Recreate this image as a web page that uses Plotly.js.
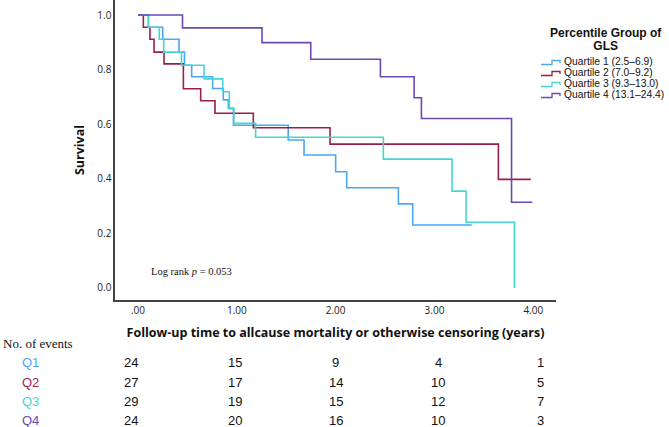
<!DOCTYPE html>
<html>
<head>
<meta charset="utf-8">
<script src="https://cdn.plot.ly/plotly-3.0.1.min.js"></script>
<style>html,body{margin:0;padding:0;background:#fff;}#chart{width:669px;height:427px;}</style>
</head>
<body>
<div id="chart"></div>
<script>
// ---- data ----
const seriesNames = ["Quartile 1 (2.5–6.9)", "Quartile 2 (7.0–9.2)", "Quartile 3 (9.3–13.0)", "Quartile 4 (13.1–24.4)"];
const legendTitle = ["Percentile Group of", "GLS"];
const shortNames = ["Q1", "Q2", "Q3", "Q4"];
const colors = ["#4aa8f5", "#9a1e4c", "#45d6d0", "#6a49b6"];

const q1Time = [0, 0.105, 0.25, 0.415, 0.47, 0.543, 0.755, 0.863, 0.914, 0.965, 1.52, 1.68, 2.0, 2.112, 2.635, 2.78, 3.377];
const q1Surv = [1.0, 0.955, 0.911, 0.864, 0.816, 0.774, 0.731, 0.689, 0.658, 0.596, 0.542, 0.487, 0.426, 0.367, 0.308, 0.231, 0.231];

const q2Time = [0, 0.054, 0.121, 0.162, 0.263, 0.459, 0.634, 0.779, 1.167, 1.943, 3.647, 3.975];
const q2Surv = [1.0, 0.955, 0.911, 0.864, 0.821, 0.730, 0.686, 0.640, 0.587, 0.527, 0.398, 0.398];

const q3Time = [0, 0.105, 0.215, 0.26, 0.44, 0.668, 0.857, 0.924, 0.97, 1.19, 2.483, 3.178, 3.32, 3.809];
const q3Surv = [1.0, 0.955, 0.911, 0.864, 0.816, 0.766, 0.719, 0.658, 0.603, 0.552, 0.472, 0.355, 0.241, 0.0];

const q4Time = [0, 0.45, 1.255, 1.748, 2.453, 2.794, 2.868, 3.78, 3.99];
const q4Surv = [1.0, 0.953, 0.899, 0.838, 0.774, 0.697, 0.621, 0.314, 0.314];

const xTickVals = [0, 1, 2, 3, 4];
const xTickText = [".00", "1.00", "2.00", "3.00", "4.00"];
const yTickVals = [0, 0.2, 0.4, 0.6, 0.8, 1.0];
const yTickText = ["0.0", "0.2", "0.4", "0.6", "0.8", "1.0"];

const tableTimes = [0, 1, 2, 3, 4];
const atRiskQ1 = [24, 15, 9, 4, 1];
const atRiskQ2 = [27, 17, 14, 10, 5];
const atRiskQ3 = [29, 19, 15, 12, 7];
const atRiskQ4 = [24, 20, 16, 10, 3];

// ---- layout helpers (pixel -> paper) ----
const W = 669, H = 427;
const M = {l: 115, r: 113, t: 0, b: 127};
const PW = W - M.l - M.r, PH = H - M.t - M.b;
const px = x => (x - M.l) / PW;
const py = y => (M.t + PH - y) / PH;

const times = [q1Time, q2Time, q3Time, q4Time];
const survs = [q1Surv, q2Surv, q3Surv, q4Surv];
const atRisk = [atRiskQ1, atRiskQ2, atRiskQ3, atRiskQ4];

const traces = times.map((t, i) => ({
  x: t, y: survs[i], type: "scatter", mode: "lines",
  line: {shape: "hv", color: colors[i], width: 1.6},
  name: seriesNames[i], showlegend: false, hoverinfo: "skip"
}));

const annotations = [];
const shapes = [];
const sansFont = "Open Sans, Liberation Sans, sans-serif";
const legFont = "Liberation Sans, Arial, sans-serif";

// Log rank text
annotations.push({xref: "paper", yref: "paper", x: px(149), y: py(271), xanchor: "left", yanchor: "middle",
  text: "Log rank <i>p</i> = 0.053", showarrow: false,
  font: {family: "Liberation Serif, Times New Roman, serif", size: 10.5, color: "#111"}});

// Legend (manual): title block and item block, each one multi-line text
const TITLE_FS = 12, ITEM_FS = 10.3;
const TITLE_GAP = 13.2, ITEM_GAP = 11; // line spacing in px (applied after render)
annotations.push({xref: "paper", yref: "paper", x: px(606), y: py(33 - 0.65 * TITLE_FS), xanchor: "center", yanchor: "top",
  text: "<b>" + legendTitle.join("<br>") + "</b>", showarrow: false, borderpad: 0, align: "center",
  font: {family: legFont, size: TITLE_FS, color: "#111"}});
annotations.push({xref: "paper", yref: "paper", x: px(562.5), y: py(62 - 0.65 * ITEM_FS), xanchor: "left", yanchor: "top",
  text: seriesNames.join("<br>"), showarrow: false, borderpad: 0, align: "left",
  font: {family: legFont, size: ITEM_FS, color: "#111"}});
seriesNames.forEach((n, i) => {
  const y0 = 62 + i * ITEM_GAP;
  shapes.push({type: "path", xref: "paper", yref: "paper",
    path: `M ${px(541)},${py(y0 + 2.5)} L ${px(552)},${py(y0 + 2.5)} L ${px(552)},${py(y0 - 1.5)} L ${px(560)},${py(y0 - 1.5)} L ${px(560)},${py(y0 + 1)}`,
    line: {color: colors[i], width: 1.3}});
});

// Table
annotations.push({xref: "paper", yref: "paper", x: px(2), y: py(343), xanchor: "left", yanchor: "middle",
  text: "No. of events", showarrow: false, borderpad: 0,
  font: {family: "Liberation Serif, Times New Roman, serif", size: 13, color: "#111"}});
const rowY = [362.5, 382, 401.5, 420];
const colShift = [-7, -2, 0, 4, 7];
shortNames.forEach((s, i) => {
  annotations.push({xref: "paper", yref: "paper", x: px(30), y: py(rowY[i]), xanchor: "center", yanchor: "middle",
    text: s, showarrow: false, borderpad: 0,
    font: {family: "Liberation Sans, Arial, sans-serif", size: 13, color: colors[i]}});
  atRisk[i].forEach((v, j) => {
    annotations.push({xref: "x", yref: "paper", x: tableTimes[j], xshift: colShift[j], y: py(rowY[i]),
      xanchor: "center", yanchor: "middle", text: String(v), showarrow: false, borderpad: 0,
      font: {family: "Liberation Sans, Arial, sans-serif", size: 13, color: "#111"}});
  });
});

const layout = {
  width: W, height: H,
  margin: M,
  paper_bgcolor: "#fff", plot_bgcolor: "#fff",
  showlegend: false,
  xaxis: {
    range: [-0.233, 4.23], tickvals: xTickVals, ticktext: xTickText,
    showgrid: false, zeroline: false, showline: true, linecolor: "#444", linewidth: 1.6,
    ticks: "", tickfont: {family: sansFont, size: 10, color: "#222"},
    title: {text: "<b>Follow-up time to allcause mortality or otherwise censoring (years)</b>",
      font: {family: sansFont, size: 12.5, color: "#111"}, standoff: 12}
  },
  yaxis: {
    range: [-0.044, 1.055], tickvals: yTickVals, ticktext: yTickText,
    showgrid: false, zeroline: false, showline: true, linecolor: "#444", linewidth: 1.6,
    ticks: "", tickfont: {family: sansFont, size: 10, color: "#222"},
    title: {text: "<b>Survival</b>", font: {family: sansFont, size: 12.5, color: "#111"}, standoff: 10}
  },
  annotations: annotations,
  shapes: shapes
};

function tightenLines(firstLine, gapPx) {
  document.querySelectorAll("g.annotation text.annotation-text").forEach(t => {
    const lines = t.querySelectorAll("tspan.line");
    if (lines.length > 1 && lines[0].textContent.indexOf(firstLine) === 0) {
      lines.forEach((ln, k) => ln.setAttribute("dy", (k * gapPx) + "px"));
    }
  });
}

Plotly.newPlot("chart", traces, layout, {displayModeBar: false, staticPlot: true}).then(() => {
  tightenLines(legendTitle[0], TITLE_GAP);
  tightenLines(seriesNames[0], ITEM_GAP);
});
</script>
</body>
</html>
